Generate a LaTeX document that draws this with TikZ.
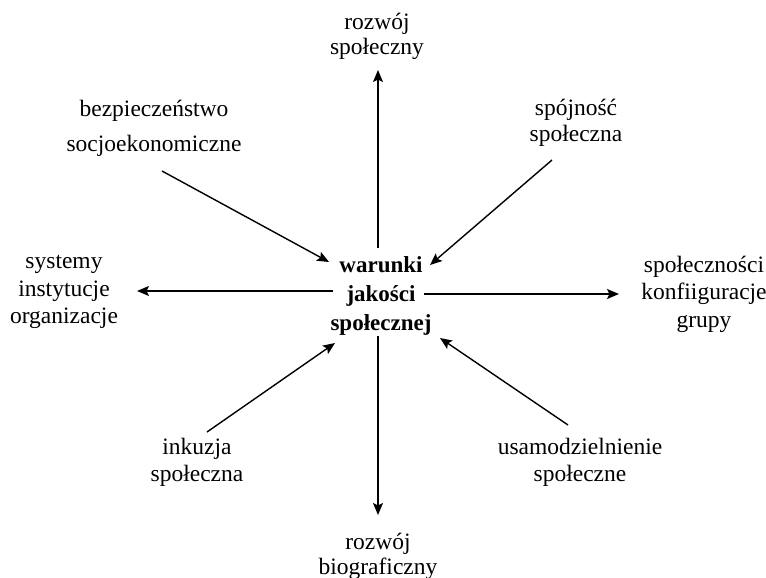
\documentclass[tikz,border=0pt]{standalone}
\usepackage{fontspec}
\setmainfont{Liberation Serif}
\usetikzlibrary{arrows.meta}
\tikzset{
  lbl/.style={inner sep=0pt, align=center, font=\fontsize{23.5}{27}\selectfont},
  ctr/.style={inner sep=0pt, align=center, font=\fontsize{23}{29}\selectfont\bfseries},
  arr/.style={line width=1.4pt, -{Stealth[length=12pt,width=10pt,inset=2.5pt]}}
}
\begin{document}
\begin{tikzpicture}[x=1pt,y=-1pt]
\useasboundingbox (0,0) rectangle (766,578);
\node[ctr] (c) at (381,296) {warunki\\jakości\\społecznej};
\node[lbl, font=\fontsize{23.5}{25}\selectfont] (t) at (377,36) {rozwój\\społeczny};
\node[lbl, font=\fontsize{23.5}{35}\selectfont] (tl) at (154,128) {bezpieczeństwo\\socjoekonomiczne};
\node[lbl, font=\fontsize{23.5}{26}\selectfont] (tr) at (576,123) {spójność\\społeczna};
\node[lbl, font=\fontsize{23.5}{27.5}\selectfont] (l) at (64,292) {systemy\\instytucje\\organizacje};
\node[lbl, font=\fontsize{23.5}{27.5}\selectfont] (r) at (704,294) {społeczności\\konfiiguracje\\grupy};
\node[lbl] (bl) at (197,462) {inkuzja\\społeczna};
\node[lbl, font=\fontsize{23.5}{27}\selectfont] (br) at (580,462) {usamodzielnienie\\społeczne};
\node[lbl, font=\fontsize{23.5}{25}\selectfont] (b) at (378,556) {rozwój\\biograficzny};
% arrow end points
\coordinate (tS) at (378,248);  \coordinate (tE) at (378,70);
\coordinate (bS) at (378,336);  \coordinate (bE) at (378,515);
\coordinate (lS) at (333,291);  \coordinate (lE) at (137,291);
\coordinate (rS) at (424,294);  \coordinate (rE) at (619,294);
\coordinate (tlS) at (162,171); \coordinate (tlE) at (329,262);
\coordinate (trS) at (552,160); \coordinate (trE) at (430,265);
\coordinate (blS) at (207,432); \coordinate (blE) at (335,343);
\coordinate (brS) at (568,425); \coordinate (brE) at (440,338);
\draw[arr] (tS) -- (tE);
\draw[arr] (bS) -- (bE);
\draw[arr] (lS) -- (lE);
\draw[arr] (rS) -- (rE);
\draw[arr] (tlS) -- (tlE);
\draw[arr] (trS) -- (trE);
\draw[arr] (blS) -- (blE);
\draw[arr] (brS) -- (brE);
\end{tikzpicture}
\end{document}
